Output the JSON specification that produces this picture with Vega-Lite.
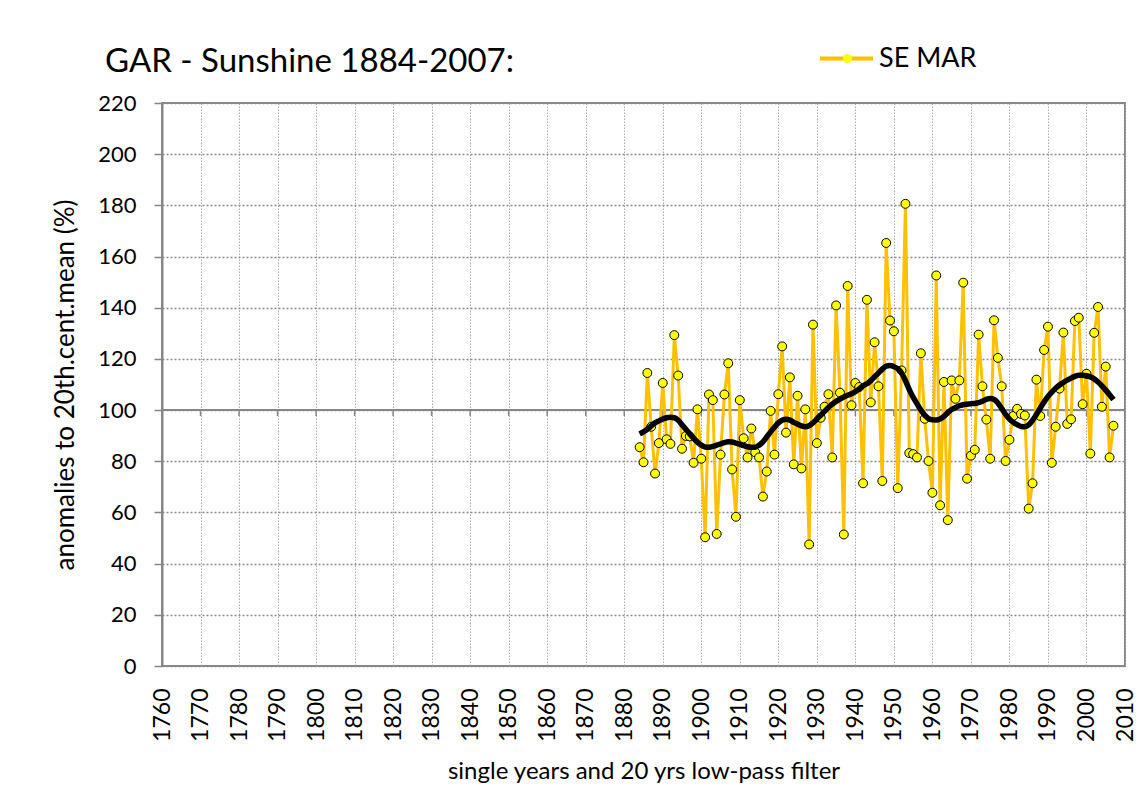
{
  "$schema": "https://vega.github.io/schema/vega-lite/v6.json",
  "width": 963,
  "height": 563,
  "autosize": "none",
  "padding": {"left": 162, "top": 103, "right": 23, "bottom": 127},
  "background": "white",
  "config": {
    "view": {"stroke": "#868686", "strokeWidth": 2},
    "font": "Lato"
  },
  "title": {
    "text": "GAR - Sunshine 1884-2007:",
    "anchor": "start",
    "frame": "group",
    "dx": -57,
    "dy": 108,
    "offset": 33,
    "baseline": "alphabetic",
    "fontSize": 33,
    "font": "Lato",
    "fontWeight": "normal",
    "color": "black"
  },
  "datasets": {
    "sun": [
      {"year": 1884, "v": 85.5, "lp": 90.7},
      {"year": 1885, "v": 79.6, "lp": 91.5},
      {"year": 1886, "v": 114.5, "lp": 92.5},
      {"year": 1887, "v": 93.5, "lp": 93.8},
      {"year": 1888, "v": 75.2, "lp": 95.0},
      {"year": 1889, "v": 87.1, "lp": 95.8},
      {"year": 1890, "v": 110.6, "lp": 96.5},
      {"year": 1891, "v": 88.6, "lp": 97.0},
      {"year": 1892, "v": 86.8, "lp": 97.2},
      {"year": 1893, "v": 129.3, "lp": 97.0},
      {"year": 1894, "v": 113.5, "lp": 96.0},
      {"year": 1895, "v": 84.9, "lp": 94.3},
      {"year": 1896, "v": 89.9, "lp": 92.5},
      {"year": 1897, "v": 89.7, "lp": 90.7},
      {"year": 1898, "v": 79.4, "lp": 89.0},
      {"year": 1899, "v": 100.3, "lp": 87.5},
      {"year": 1900, "v": 81.0, "lp": 86.3},
      {"year": 1901, "v": 50.3, "lp": 85.6},
      {"year": 1902, "v": 106.1, "lp": 85.5},
      {"year": 1903, "v": 103.9, "lp": 85.8},
      {"year": 1904, "v": 51.6, "lp": 86.3},
      {"year": 1905, "v": 82.6, "lp": 86.8},
      {"year": 1906, "v": 106.1, "lp": 87.3},
      {"year": 1907, "v": 118.3, "lp": 87.6},
      {"year": 1908, "v": 76.8, "lp": 87.5},
      {"year": 1909, "v": 58.3, "lp": 87.1},
      {"year": 1910, "v": 103.9, "lp": 86.6},
      {"year": 1911, "v": 89.0, "lp": 86.1},
      {"year": 1912, "v": 81.5, "lp": 85.7},
      {"year": 1913, "v": 92.8, "lp": 85.5},
      {"year": 1914, "v": 83.5, "lp": 85.5},
      {"year": 1915, "v": 81.5, "lp": 86.3},
      {"year": 1916, "v": 66.2, "lp": 87.6},
      {"year": 1917, "v": 76.0, "lp": 89.5},
      {"year": 1918, "v": 99.7, "lp": 91.5},
      {"year": 1919, "v": 82.6, "lp": 93.3},
      {"year": 1920, "v": 106.2, "lp": 95.0},
      {"year": 1921, "v": 124.9, "lp": 96.0},
      {"year": 1922, "v": 91.2, "lp": 96.4},
      {"year": 1923, "v": 112.8, "lp": 96.1},
      {"year": 1924, "v": 78.8, "lp": 95.2},
      {"year": 1925, "v": 105.6, "lp": 94.5},
      {"year": 1926, "v": 77.2, "lp": 93.8},
      {"year": 1927, "v": 100.3, "lp": 93.5},
      {"year": 1928, "v": 47.5, "lp": 93.9},
      {"year": 1929, "v": 133.4, "lp": 95.0},
      {"year": 1930, "v": 87.1, "lp": 96.5},
      {"year": 1931, "v": 97.0, "lp": 98.0},
      {"year": 1932, "v": 101.3, "lp": 99.5},
      {"year": 1933, "v": 106.2, "lp": 101.0},
      {"year": 1934, "v": 81.5, "lp": 102.3},
      {"year": 1935, "v": 140.9, "lp": 103.4},
      {"year": 1936, "v": 106.8, "lp": 104.3},
      {"year": 1937, "v": 51.4, "lp": 105.1},
      {"year": 1938, "v": 148.5, "lp": 105.8},
      {"year": 1939, "v": 101.9, "lp": 106.4},
      {"year": 1940, "v": 110.6, "lp": 107.2},
      {"year": 1941, "v": 109.0, "lp": 108.3},
      {"year": 1942, "v": 71.4, "lp": 109.5},
      {"year": 1943, "v": 143.1, "lp": 110.3},
      {"year": 1944, "v": 103.0, "lp": 111.5},
      {"year": 1945, "v": 126.5, "lp": 113.0},
      {"year": 1946, "v": 109.3, "lp": 114.5},
      {"year": 1947, "v": 72.3, "lp": 116.0},
      {"year": 1948, "v": 165.3, "lp": 117.2},
      {"year": 1949, "v": 135.0, "lp": 117.4},
      {"year": 1950, "v": 130.8, "lp": 117.0},
      {"year": 1951, "v": 69.5, "lp": 116.2},
      {"year": 1952, "v": 115.5, "lp": 114.5},
      {"year": 1953, "v": 180.6, "lp": 111.5},
      {"year": 1954, "v": 83.2, "lp": 108.0},
      {"year": 1955, "v": 82.8, "lp": 105.0},
      {"year": 1956, "v": 81.5, "lp": 102.5},
      {"year": 1957, "v": 122.2, "lp": 100.0},
      {"year": 1958, "v": 96.6, "lp": 98.0},
      {"year": 1959, "v": 80.1, "lp": 96.7},
      {"year": 1960, "v": 67.7, "lp": 96.2},
      {"year": 1961, "v": 152.6, "lp": 96.1},
      {"year": 1962, "v": 62.8, "lp": 96.5},
      {"year": 1963, "v": 111.0, "lp": 97.5},
      {"year": 1964, "v": 57.0, "lp": 99.0},
      {"year": 1965, "v": 111.6, "lp": 100.2},
      {"year": 1966, "v": 104.4, "lp": 101.0},
      {"year": 1967, "v": 111.6, "lp": 101.7},
      {"year": 1968, "v": 149.8, "lp": 102.1},
      {"year": 1969, "v": 73.2, "lp": 102.3},
      {"year": 1970, "v": 82.2, "lp": 102.5},
      {"year": 1971, "v": 84.5, "lp": 102.6},
      {"year": 1972, "v": 129.5, "lp": 102.9},
      {"year": 1973, "v": 109.3, "lp": 103.5},
      {"year": 1974, "v": 96.3, "lp": 104.2},
      {"year": 1975, "v": 81.0, "lp": 104.5},
      {"year": 1976, "v": 135.1, "lp": 104.2},
      {"year": 1977, "v": 120.4, "lp": 102.8},
      {"year": 1978, "v": 109.3, "lp": 100.6},
      {"year": 1979, "v": 80.1, "lp": 98.3},
      {"year": 1980, "v": 88.4, "lp": 96.5},
      {"year": 1981, "v": 97.7, "lp": 95.2},
      {"year": 1982, "v": 100.5, "lp": 94.3},
      {"year": 1983, "v": 98.5, "lp": 93.6},
      {"year": 1984, "v": 97.9, "lp": 93.5},
      {"year": 1985, "v": 61.5, "lp": 94.2},
      {"year": 1986, "v": 71.4, "lp": 96.0},
      {"year": 1987, "v": 111.9, "lp": 98.3},
      {"year": 1988, "v": 97.7, "lp": 100.8},
      {"year": 1989, "v": 123.5, "lp": 103.2},
      {"year": 1990, "v": 132.6, "lp": 105.3},
      {"year": 1991, "v": 79.4, "lp": 107.0},
      {"year": 1992, "v": 93.5, "lp": 108.5},
      {"year": 1993, "v": 108.4, "lp": 109.8},
      {"year": 1994, "v": 130.3, "lp": 110.8},
      {"year": 1995, "v": 94.6, "lp": 111.7},
      {"year": 1996, "v": 96.4, "lp": 112.5},
      {"year": 1997, "v": 134.8, "lp": 113.2},
      {"year": 1998, "v": 136.1, "lp": 113.6},
      {"year": 1999, "v": 102.3, "lp": 113.6},
      {"year": 2000, "v": 114.2, "lp": 113.4},
      {"year": 2001, "v": 83.0, "lp": 113.0},
      {"year": 2002, "v": 130.2, "lp": 112.2},
      {"year": 2003, "v": 140.3, "lp": 111.0},
      {"year": 2004, "v": 101.3, "lp": 109.5},
      {"year": 2005, "v": 117.0, "lp": 107.8},
      {"year": 2006, "v": 81.5, "lp": 106.0},
      {"year": 2007, "v": 93.9, "lp": 104.1}
    ],
    "decades": [
      {"year": 1770}, {"year": 1780}, {"year": 1790}, {"year": 1800}, {"year": 1810},
      {"year": 1820}, {"year": 1830}, {"year": 1840}, {"year": 1850}, {"year": 1860},
      {"year": 1870}, {"year": 1880}, {"year": 1890}, {"year": 1900}, {"year": 1910},
      {"year": 1920}, {"year": 1930}, {"year": 1940}, {"year": 1950}, {"year": 1960},
      {"year": 1970}, {"year": 1980}, {"year": 1990}, {"year": 2000}
    ]
  },
  "data": {"name": "sun"},
  "encoding": {
    "x": {
      "field": "year",
      "type": "quantitative",
      "scale": {"domain": [1760, 2010], "nice": false, "zero": false},
      "axis": {
        "values": [1760, 1770, 1780, 1790, 1800, 1810, 1820, 1830, 1840, 1850, 1860, 1870, 1880, 1890, 1900, 1910, 1920, 1930, 1940, 1950, 1960, 1970, 1980, 1990, 2000, 2010],
        "format": "d",
        "labelAngle": 270,
        "labelFontSize": 23,
        "labelFont": "Lato",
        "labelColor": "black",
        "labelPadding": 22,
        "labelFlush": false,
        "labelOverlap": false,
        "labelBound": false,
        "ticks": false,
        "tickSize": 0,
        "domain": false,
        "grid": true,
        "gridColor": "#a8a8a8",
        "gridDash": [1.5, 1.5],
        "gridWidth": 1,
        "title": "single years and 20 yrs low-pass filter",
        "titleFont": "Lato",
        "titleFontSize": 24,
        "titleFontWeight": "normal",
        "titleColor": "black",
        "titlePadding": 18
      }
    }
  },
  "layer": [
    {
      "mark": {"type": "rule", "color": "#868686", "strokeWidth": 2},
      "encoding": {
        "x": null,
        "y": {
          "datum": 100,
          "type": "quantitative",
          "scale": {"domain": [0, 220], "nice": false, "zero": true},
          "axis": {
            "values": [0, 10, 20, 30, 40, 50, 60, 70, 80, 90, 100, 110, 120, 130, 140, 150, 160, 170, 180, 190, 200, 210, 220],
            "labelExpr": "datum.value % 20 === 0 ? datum.label : ''",
            "tickSize": {"condition": {"test": "datum.value % 20 === 0", "value": 8}, "value": 4},
            "tickColor": "#868686",
            "tickWidth": 1.5,
            "domainColor": "#868686",
            "domainWidth": 2,
            "grid": true,
            "gridColor": "#8a8a8a",
            "gridDash": [2, 2],
            "gridWidth": 1.5,
            "gridOpacity": {"condition": {"test": "datum.value % 20 === 0", "value": 1}, "value": 0},
            "labelFontSize": 22,
            "labelFont": "Lato",
            "labelColor": "black",
            "labelPadding": 18,
            "labelOverlap": false,
            "labelBound": false,
            "labelFlush": false,
            "title": "anomalies to 20th.cent.mean (%)",
            "titleFont": "Lato",
            "titleFontSize": 26,
            "titleFontWeight": "normal",
            "titleColor": "black",
            "titlePadding": 19
          }
        }
      }
    },
    {
      "data": {"name": "decades"},
      "mark": {"type": "rule", "color": "#868686", "strokeWidth": 1.5},
      "encoding": {
        "y": {"datum": 100, "type": "quantitative"},
        "y2": {"datum": 97.7}
      }
    },
    {
      "mark": {"type": "line", "strokeWidth": 3},
      "encoding": {
        "y": {"field": "v", "type": "quantitative"},
        "color": {
          "datum": "SE MAR",
          "scale": {"range": ["#FFC000"]},
          "legend": {
            "orient": "none",
            "legendX": 656,
            "legendY": -73,
            "symbolType": "stroke",
            "symbolSize": 2809,
            "symbolStrokeWidth": 4,
            "labelFontSize": 27,
            "labelFont": "Lato",
            "labelColor": "black",
            "labelOffset": 4,
            "title": null,
            "padding": 0
          }
        }
      }
    },
    {
      "mark": {"type": "point", "filled": true, "fill": "#FFFF00", "stroke": "black", "strokeWidth": 1, "size": 80, "opacity": 1},
      "encoding": {
        "y": {"field": "v", "type": "quantitative"},
        "shape": {
          "datum": "SE MAR ",
          "scale": {"range": ["circle"]},
          "legend": {
            "orient": "none",
            "legendX": 672,
            "legendY": -58,
            "symbolFillColor": "#FFFF00",
            "symbolStrokeColor": "black",
            "symbolStrokeWidth": 1,
            "symbolSize": 80,
            "symbolOpacity": 1,
            "labelFontSize": 27,
            "labelExpr": "''",
            "title": null,
            "padding": 0,
            "encode": {
              "symbols": {
                "fill": {"value": "#FFFF00"},
                "stroke": {"value": "black"},
                "strokeWidth": {"value": 1},
                "size": {"value": 80},
                "opacity": {"value": 1}
              }
            }
          }
        }
      }
    },
    {
      "mark": {"type": "line", "color": "black", "strokeWidth": 5.5, "interpolate": "monotone"},
      "encoding": {
        "y": {"field": "lp", "type": "quantitative"}
      }
    }
  ]
}
